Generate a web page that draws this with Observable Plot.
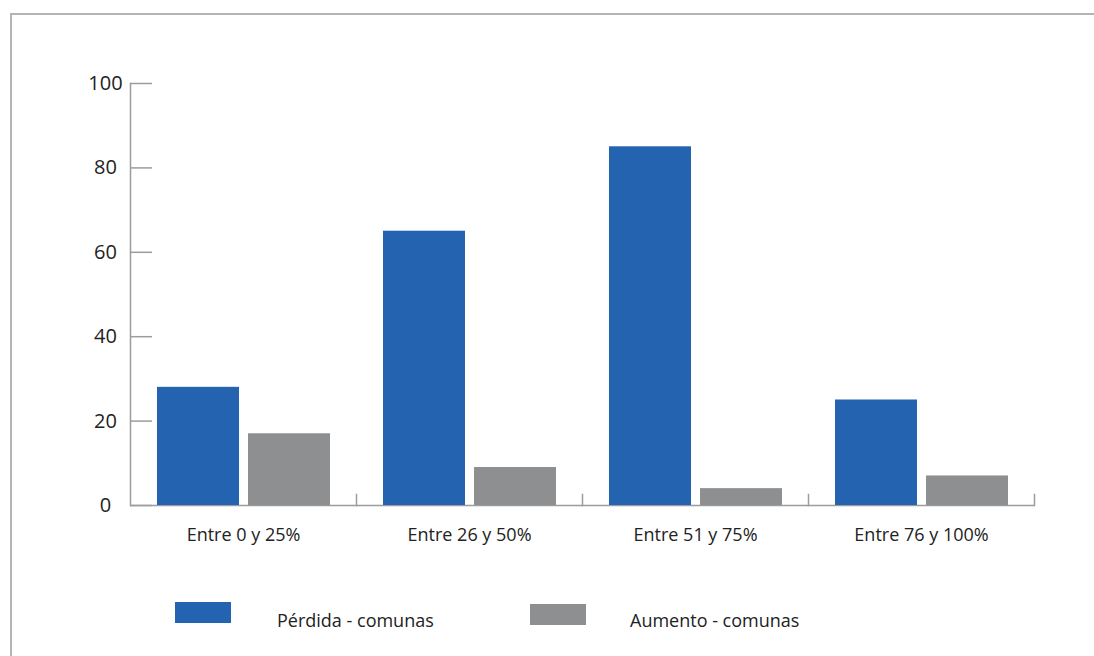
<!DOCTYPE html>
<html><head><meta charset="utf-8">
<script src="https://cdn.jsdelivr.net/npm/d3@7"></script>
<script src="https://cdn.jsdelivr.net/npm/@observablehq/plot@0.6"></script>
<style>
body{margin:0;background:#fff;font-family:"Open Sans",sans-serif;}
#wrap{position:relative;width:1094px;height:656px;overflow:hidden;background:#fff}
#border{position:absolute;left:10px;top:13px;width:1100px;height:700px;border-top:2px solid #b4b4b4;border-left:2px solid #b4b4b4;box-sizing:border-box}
#chart{position:absolute;left:0;top:0}
.sw{position:absolute;height:21px;width:56px}
.lt{position:absolute;font-size:18px;color:#222;line-height:21px;white-space:nowrap}
</style></head>
<body><div id="wrap"><div id="border"></div><div id="chart"></div><div id="legend"></div></div>
<script>
const categorias = ["Entre 0 y 25%","Entre 26 y 50%","Entre 51 y 75%","Entre 76 y 100%"];
const series = ["Pérdida - comunas","Aumento - comunas"];
const perdida = [28,65,85,25];
const aumento = [17,9,4,7];
const yTicks = [0,20,40,60,80,100];
const colores = ["#2463b0","#8e8f91"];

const data = [];
categorias.forEach((c,i)=>{
  data.push({cat:c, serie:series[0], valor:perdida[i]});
  data.push({cat:c, serie:series[1], valor:aumento[i]});
});
const axisColor = "#9c9c9c";

const chart = Plot.plot({
  width:1094, height:560,
  marginLeft:129, marginRight:59, marginTop:83, marginBottom:55,
  style:{fontFamily:"'Open Sans', sans-serif", background:"transparent"},
  fx:{domain:categorias, padding:0, label:null, axis:null},
  x:{domain:series, axis:null, paddingInner:0.099, paddingOuter:0.29},
  y:{domain:[0,100], axis:null},
  color:{domain:series, range:colores},
  marks:[
    Plot.ruleY([0], {stroke:axisColor, strokeWidth:1.5}),
    Plot.barY(data, {fx:"cat", x:"serie", y:"valor", fill:"serie"}),
    Plot.frame({anchor:"left", facetAnchor:"left", stroke:axisColor, strokeWidth:1.5}),
    Plot.frame({anchor:"right", insetTop:411, stroke:axisColor, strokeWidth:1.5}),
    Plot.axisY(yTicks, {tickSize:22, dx:22, tickPadding:25, textAnchor:"middle", fontSize:20, stroke:axisColor, strokeWidth:1.5, fill:"#222", label:null}),
    Plot.axisFx({anchor:"bottom", tickSize:0, tickPadding:23, fontSize:18, fill:"#222", label:null})
  ]
});
document.getElementById("chart").appendChild(chart);

const legend = document.getElementById("legend");
const items = [
  {x:175, y:602, tx:277},
  {x:530, y:604, tx:630}
];
series.forEach((s,i)=>{
  const sw = document.createElement("div");
  sw.className="sw"; sw.style.left=items[i].x+"px"; sw.style.top=items[i].y+"px"; sw.style.background=colores[i];
  legend.appendChild(sw);
  const t = document.createElement("div");
  t.className="lt"; t.style.left=items[i].tx+"px"; t.style.top="610px"; t.textContent=s;
  legend.appendChild(t);
});
</script></body></html>
